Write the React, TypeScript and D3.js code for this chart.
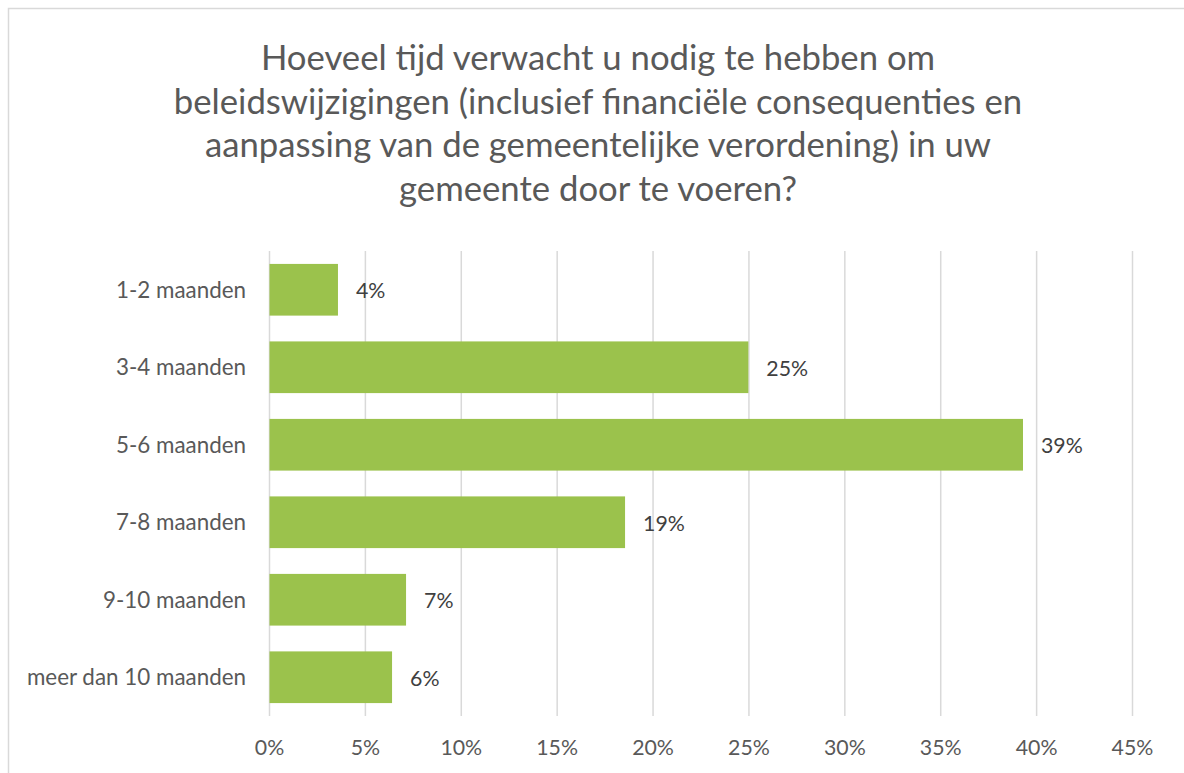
import { useEffect, useRef } from 'react';
import * as d3 from 'd3';

// chart data
const categories = ['1-2 maanden', '3-4 maanden', '5-6 maanden', '7-8 maanden', '9-10 maanden', 'meer dan 10 maanden'];
const shares = [0.0357, 0.2497, 0.3929, 0.1854, 0.0712, 0.0639];
const xTicks = [0, 0.05, 0.1, 0.15, 0.2, 0.25, 0.3, 0.35, 0.4, 0.45];
const titleLines = [
  'Hoeveel tijd verwacht u nodig te hebben om',
  'beleidswijzigingen (inclusief financiële consequenties en',
  'aanpassing van de gemeentelijke verordening) in uw',
  'gemeente door te voeren?'
];

const FONT = 'Lato, "Open Sans", sans-serif';

const App = () => {
  const ref = useRef<SVGSVGElement>(null);

  useEffect(() => {
    const svg = d3.select(ref.current);
    svg.selectAll('*').remove();

    // chart frame
    svg.append('rect')
      .attr('x', 8.5)
      .attr('y', 8.5)
      .attr('width', 1180)
      .attr('height', 800)
      .attr('fill', '#fff')
      .attr('stroke', '#d9d9d9')
      .attr('stroke-width', 1.5);

    // title
    svg.append('text')
      .attr('text-anchor', 'middle')
      .attr('font-family', FONT)
      .attr('font-size', 34.7)
      .attr('fill', '#595959')
      .selectAll('tspan')
      .data(titleLines)
      .join('tspan')
      .attr('x', 598)
      .attr('y', (d, i) => 70 + i * 43.5)
      .text(d => d);

    // scales
    const x = d3.scaleLinear().domain([0, 0.45]).range([269.5, 1132.5]);
    const y = d3.scaleBand().domain(categories).range([251, 716]).paddingInner(0.333).paddingOuter(0.1667);

    // gridlines
    svg.append('g')
      .selectAll('line')
      .data(xTicks)
      .join('line')
      .attr('x1', d => x(d))
      .attr('x2', d => x(d))
      .attr('y1', 251)
      .attr('y2', 716)
      .attr('stroke', '#d9d9d9')
      .attr('stroke-width', 1.5);

    // x tick labels
    const pct = d3.format('.0%');
    svg.append('g')
      .selectAll('text')
      .data(xTicks)
      .join('text')
      .attr('x', d => x(d))
      .attr('y', 755)
      .attr('text-anchor', 'middle')
      .attr('font-family', FONT)
      .attr('font-size', 21.3)
      .attr('fill', '#595959')
      .text(d => pct(d));

    // category labels
    svg.append('g')
      .selectAll('text')
      .data(categories)
      .join('text')
      .attr('x', 246)
      .attr('y', d => (y(d) ?? 0) + y.bandwidth() / 2 + 8)
      .attr('text-anchor', 'end')
      .attr('font-family', FONT)
      .attr('font-size', 22.4)
      .attr('fill', '#595959')
      .text(d => d);

    // bars
    svg.append('g')
      .selectAll('rect')
      .data(shares)
      .join('rect')
      .attr('x', x(0))
      .attr('y', (d, i) => y(categories[i]) ?? 0)
      .attr('width', d => x(d) - x(0))
      .attr('height', y.bandwidth())
      .attr('fill', '#9bc24c');

    // data labels
    svg.append('g')
      .selectAll('text')
      .data(shares)
      .join('text')
      .attr('x', d => x(d) + 18)
      .attr('y', (d, i) => (y(categories[i]) ?? 0) + y.bandwidth() / 2 + 8.5)
      .attr('font-family', FONT)
      .attr('font-size', 21.3)
      .attr('fill', '#404040')
      .text(d => pct(d));
  }, []);

  return (
    <svg
      ref={ref}
      width={1184}
      height={773}
      style={{ position: 'absolute', left: 0, top: 0, display: 'block' }}
    />
  );
};

export default App;
